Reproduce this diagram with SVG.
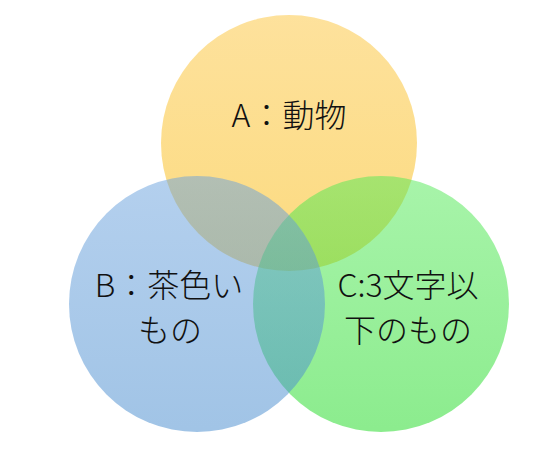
<svg xmlns="http://www.w3.org/2000/svg" width="560" height="457" viewBox="0 0 560 457">
  <defs>
    <linearGradient id="gA" x1="0" y1="0" x2="0" y2="1">
      <stop offset="0" stop-color="#FCC43A"/>
      <stop offset="1" stop-color="#F8B600"/>
    </linearGradient>
    <linearGradient id="gB" x1="0" y1="0" x2="0" y2="1">
      <stop offset="0" stop-color="#69A1DD"/>
      <stop offset="1" stop-color="#4389CD"/>
    </linearGradient>
    <linearGradient id="gC" x1="0" y1="0" x2="0" y2="1">
      <stop offset="0" stop-color="#51E955"/>
      <stop offset="1" stop-color="#19D91D"/>
    </linearGradient>
  </defs>
  <style>
    .c { fill-opacity: 0.5; stroke: none; }
    .t { font-family: "Noto Sans CJK JP", "Noto Sans", sans-serif; font-size: 32px; font-weight: 300; fill: #111; text-anchor: middle; }
  </style>
  <rect width="560" height="457" fill="#ffffff"/>
  <g id="nodeA">
    <circle class="c" cx="289" cy="143" r="128" fill="url(#gA)"/>
  </g>
  <g id="nodeC">
    <circle class="c" cx="381" cy="304" r="128" fill="url(#gC)"/>
  </g>
  <g id="nodeB">
    <circle class="c" cx="197" cy="304" r="128" fill="url(#gB)"/>
  </g>
  <g id="labels">
    <text class="t" x="289" y="127">A：動物</text>
    <text class="t" x="169" y="297">B：茶色い</text>
    <text class="t" x="170" y="342">もの</text>
    <text class="t" x="408" y="297">C:3文字以</text>
    <text class="t" x="408" y="342">下のもの</text>
  </g>
  <g id="connectors"/>
</svg>
